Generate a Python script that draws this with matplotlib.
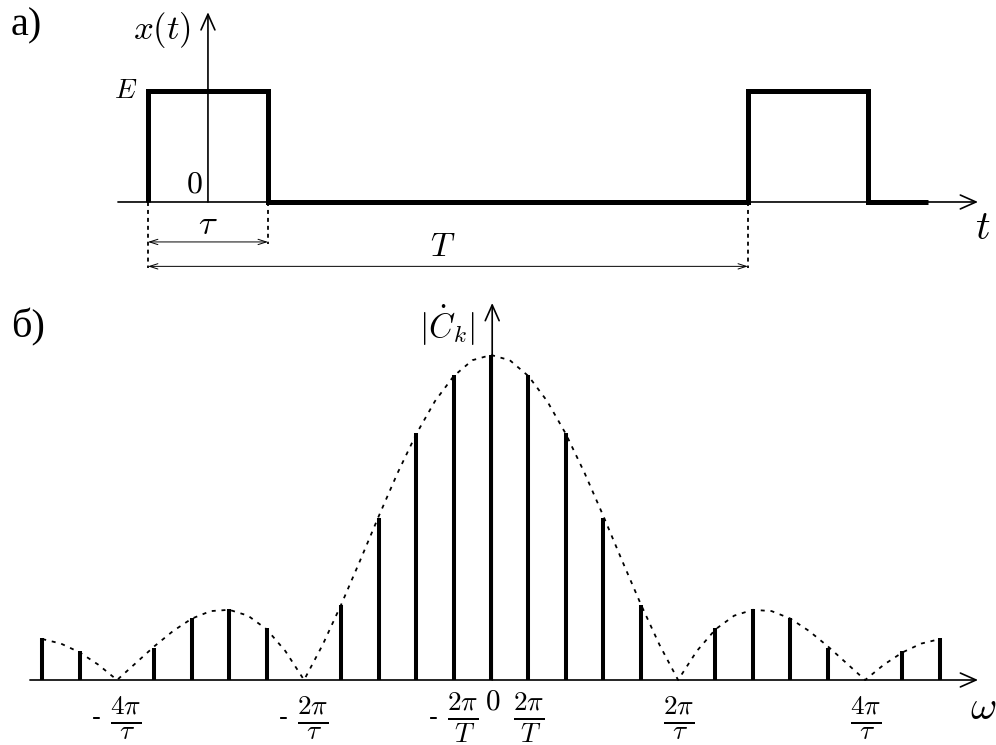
import matplotlib
matplotlib.use('Agg')
import matplotlib.pyplot as plt

plt.rcParams['font.family'] = ['Liberation Serif', 'DejaVu Serif']
plt.rcParams['mathtext.fontset'] = 'cm'

# --- top panel: periodic pulse train (tau = 1, T = 5, E = 1)
pulse_edges = [-0.5, 0.5, 4.5, 5.5, 6.0]
pulse_level = [1, 0, 1, 0]
tau = 1.0
period = 5.0

# --- bottom panel: line spectrum |C_k| (harmonic index k)
harm_k = [-12, -11, -9, -8, -7, -6, -4, -3, -2, -1, 0,
          1, 2, 3, 4, 6, 7, 8, 9, 11, 12]
harm_amp = [0.13, 0.09, 0.10, 0.19, 0.22, 0.16, 0.23, 0.50, 0.76, 0.94, 1.00,
            0.94, 0.76, 0.50, 0.23, 0.16, 0.22, 0.19, 0.10, 0.09, 0.13]

# envelope read at half-harmonic steps, k >= 0 (symmetric)
env_k_pos = [0, 0.5, 1, 1.5, 2, 2.5, 3, 3.5, 4, 4.5, 5, 5.5, 6, 6.5,
             7, 7.5, 8, 8.5, 9, 9.5, 10, 10.5, 11, 11.5, 12]
env_pos = [1.00, 0.984, 0.935, 0.858, 0.757, 0.637, 0.505, 0.368, 0.234, 0.109,
           0.00, 0.089, 0.156, 0.198, 0.216, 0.212, 0.189, 0.151, 0.104, 0.052,
           0.00, 0.047, 0.085, 0.112, 0.126]

tick_pos = [-10, -5, -1, 0, 1, 5, 10]
tick_lab = [r'$\frac{4\pi}{\tau}$', r'$\frac{2\pi}{\tau}$', r'$\frac{2\pi}{T}$',
            r'$0$', r'$\frac{2\pi}{T}$', r'$\frac{2\pi}{\tau}$', r'$\frac{4\pi}{\tau}$']

W, H = 996, 745
fig = plt.figure(figsize=(W / 100, H / 100), dpi=100)

axis_arrow = dict(arrowstyle='->,head_length=0.45,head_width=0.2', lw=1.2,
                  color='black', mutation_scale=25, shrinkA=0, shrinkB=0)
dim_arrow = dict(arrowstyle='<->,head_length=0.5,head_width=0.16', lw=0.7,
                 color='black', mutation_scale=12, shrinkA=0, shrinkB=0)

# ---------------- top ----------------
ax1 = fig.add_axes([0, 1 - 290 / H, 1, 290 / H])
ax1.set_xlim(-1.733, 6.567)
ax1.set_ylim(-0.793, 1.82)
ax1.axis('off')

ax1.annotate('', xy=(6.417, 0), xytext=(-0.75, 0), arrowprops=axis_arrow)
ax1.annotate('', xy=(0, 1.71), xytext=(0, 0), arrowprops=axis_arrow)

ax1.stairs(pulse_level, pulse_edges, baseline=0, fill=False, color='black',
           lw=3.6, joinstyle='miter')

dot = dict(color='black', lw=1.3, ls=(0, (2.2, 2.2)))
ax1.plot([pulse_edges[0]] * 2, [0, -0.595], **dot)
ax1.plot([pulse_edges[1]] * 2, [0, -0.378], **dot)
ax1.plot([pulse_edges[2]] * 2, [0, -0.595], **dot)

ax1.annotate('', xy=(pulse_edges[0] + tau, -0.36), xytext=(pulse_edges[0], -0.36),
             arrowprops=dim_arrow)
ax1.annotate('', xy=(pulse_edges[0] + period, -0.58), xytext=(pulse_edges[0], -0.58),
             arrowprops=dim_arrow)

ax1.text(0, -0.216, r'$\tau$', fontsize=25, ha='center', va='center')
ax1.text(1.96, -0.414, r'$T$', fontsize=24, ha='center', va='center')
ax1.text(-0.69, 1.0, r'$E$', fontsize=20, ha='center', va='center')
ax1.text(-0.117, 0.153, r'$0$', fontsize=23, ha='center', va='center')
ax1.text(-0.383, 1.55, r'$x(t)$', fontsize=25, ha='center', va='center')
ax1.text(6.46, -0.25, r'$t$', fontsize=29, ha='center', va='center')

# ---------------- bottom ----------------
ax2 = fig.add_axes([0, 0, 1, 455 / H])
ax2.set_xlim(-13.13, 13.50)
ax2.set_ylim(-0.2, 1.2)
ax2.axis('off')

ax2.annotate('', xy=(13.02, 0), xytext=(-12.33, 0), arrowprops=axis_arrow)
ax2.annotate('', xy=(0.03, 1.16), xytext=(0.03, 0), arrowprops=axis_arrow)

env_k = [-k for k in env_k_pos[::-1]] + env_k_pos[1:]
env = env_pos[::-1] + env_pos[1:]
ax2.plot(env_k, env, color='black', lw=1.3, ls=(0, (2.2, 3.2)))
ax2.vlines(harm_k, 0, harm_amp, color='black', lw=2.9)

for p, lab in zip(tick_pos, tick_lab):
    if p == 0:
        ax2.text(p + 0.05, -0.068, lab, fontsize=21, ha='center', va='center')
    elif p < 0:
        ax2.text(p + 0.23, -0.116, lab, fontsize=28, ha='center', va='center')
        ax2.text(p - 0.55, -0.116, '-', fontsize=19, fontfamily='DejaVu Serif',
                 ha='center', va='center')
    else:
        ax2.text(p, -0.116, lab, fontsize=28, ha='center', va='center')

ax2.text(-1.18, 1.092, r'$|\dot{C}_k|$', fontsize=24, ha='center', va='center')
ax2.text(13.15, -0.09, r'$\omega$', fontsize=29, ha='center', va='center')

fig.text(26 / W, 1 - 26 / H, 'а)', fontsize=29, ha='center', va='center')
fig.text(28 / W, 1 - 327 / H, 'б)', fontsize=29, ha='center', va='center')

fig.savefig('out.png', dpi=100)
